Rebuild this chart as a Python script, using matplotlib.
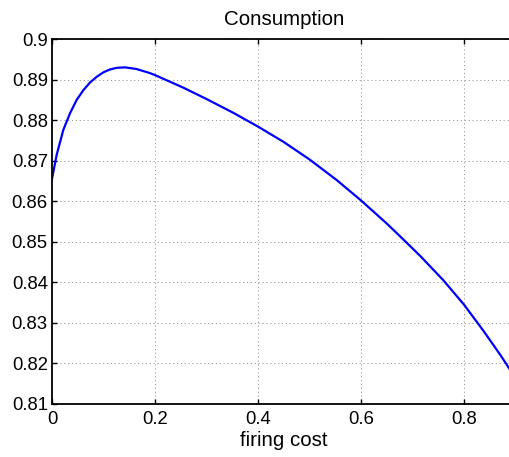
import matplotlib
matplotlib.use("Agg")
import matplotlib.pyplot as plt

# Data
firing_cost = [0.0, 0.009, 0.022, 0.035, 0.048, 0.061, 0.074, 0.087, 0.100,
               0.113, 0.126, 0.142, 0.164, 0.190, 0.200, 0.255, 0.300, 0.352,
               0.400, 0.450, 0.500, 0.553, 0.600, 0.650, 0.682, 0.715, 0.760,
               0.800, 0.838, 0.870, 0.900]
consumption = [0.8655, 0.8714, 0.8776, 0.8817, 0.8850, 0.8874, 0.8893, 0.8907,
               0.8918, 0.8925, 0.8929, 0.8930, 0.8926, 0.8916, 0.8911, 0.8880,
               0.8852, 0.8818, 0.8784, 0.8746, 0.8703, 0.8652, 0.8602, 0.8545,
               0.8506, 0.8465, 0.8405, 0.8345, 0.8280, 0.8222, 0.8164]
x_ticks = [0, 0.2, 0.4, 0.6, 0.8]
x_tick_labels = ["0", "0.2", "0.4", "0.6", "0.8"]
y_ticks = [0.81, 0.82, 0.83, 0.84, 0.85, 0.86, 0.87, 0.88, 0.89, 0.9]
y_tick_labels = ["0.81", "0.82", "0.83", "0.84", "0.85", "0.86", "0.87", "0.88", "0.89", "0.9"]

plt.rcParams['font.family'] = ['Liberation Sans', 'DejaVu Sans']

W, H = 510, 457
fig = plt.figure(figsize=(W / 100, H / 100), dpi=100)
left_px, right_px, top_px, bottom_px = 52, 515.5, 39, 404
ax = fig.add_axes([left_px / W, (H - bottom_px) / H,
                   (right_px - left_px) / W, (bottom_px - top_px) / H])

ax.plot(firing_cost, consumption, color='#0000ff', lw=1.6)
ax.set_xlim(0, 0.9)
ax.set_ylim(0.81, 0.9)
ax.set_xticks(x_ticks)
ax.set_xticklabels(x_tick_labels)
ax.set_yticks(y_ticks)
ax.set_yticklabels(y_tick_labels)

ax.grid(True, color='0.6', linestyle=(0, (1.2, 2.8)), lw=0.7)
ax.tick_params(direction='in', length=3.5, width=1.0, top=True, right=True,
               labelsize=13.3, colors='black')
ax.tick_params(axis='x', pad=5)
ax.tick_params(axis='y', pad=3)
for s in ax.spines.values():
    s.set_linewidth(1.3)

ax.set_title("Consumption", fontsize=14.8, pad=10)
ax.set_xlabel("firing cost", fontsize=14.8, labelpad=2)

fig.savefig("out.png", dpi=100)
